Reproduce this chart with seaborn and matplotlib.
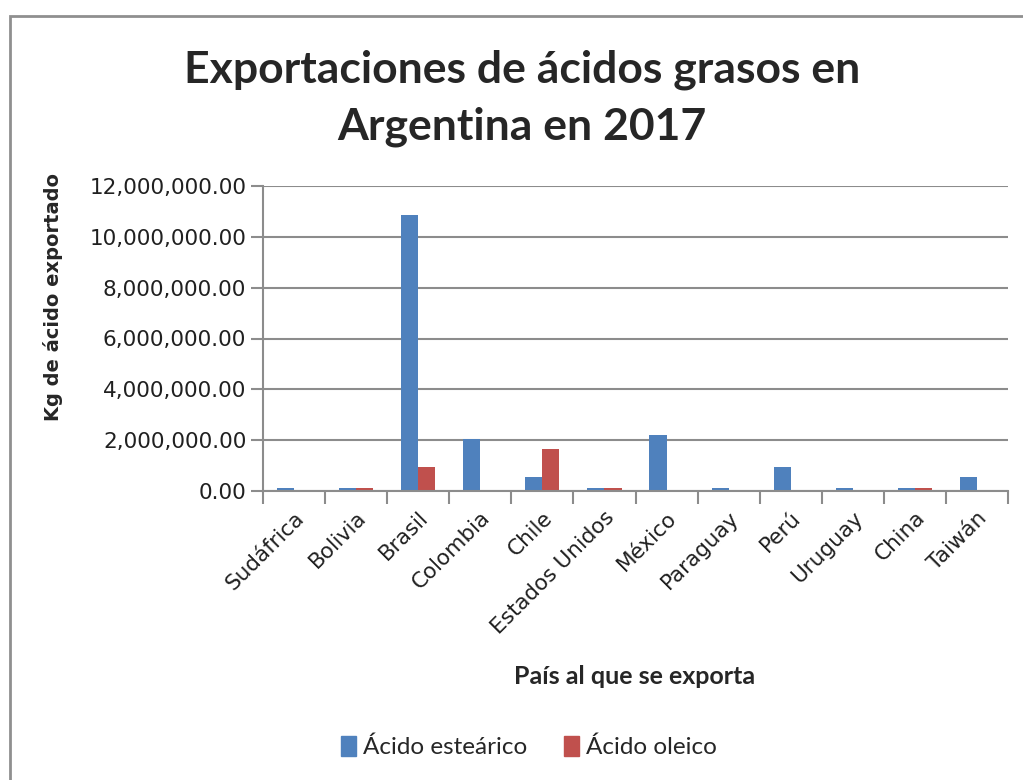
import pandas as pd
import matplotlib.pyplot as plt
import matplotlib.ticker as mticker
from matplotlib.patches import Rectangle
import seaborn as sns

# === datos ===
paises = ['Sudáfrica', 'Bolivia', 'Brasil', 'Colombia', 'Chile', 'Estados Unidos',
          'México', 'Paraguay', 'Perú', 'Uruguay', 'China', 'Taiwán']
estearico = [110000, 110000, 10860000, 2040000, 540000, 110000,
             2200000, 110000, 930000, 110000, 110000, 540000]
oleico = [0, 110000, 930000, 0, 1640000, 110000,
          0, 0, 0, 0, 110000, 0]
series = ['Ácido esteárico', 'Ácido oleico']
colores = ['#4F81BD', '#C0504D']

df = pd.DataFrame({'País': paises, series[0]: estearico, series[1]: oleico})
df_long = df.melt(id_vars='País', value_vars=series, var_name='Serie', value_name='Kg')

sns.set_theme(style='white')
plt.rcParams['font.family'] = ['DejaVu Sans']

fig = plt.figure(figsize=(10.23, 7.8), dpi=100)
ax = fig.add_axes([263 / 1023, 1 - 491 / 780, (1008 - 263) / 1023, (491 - 186) / 780])

sns.barplot(data=df_long, x='País', y='Kg', hue='Serie', palette=colores,
            width=0.55, ax=ax, legend=False, saturation=1, linewidth=0)

# === formato ===
ax.set_ylim(0, 12000000)
ax.set_xlim(-0.5, len(paises) - 0.5)
ax.yaxis.set_major_locator(mticker.MultipleLocator(2000000))
ax.yaxis.set_major_formatter(mticker.FuncFormatter(lambda v, p: f'{v:,.2f}'))
ax.grid(axis='y', color='#8c8c8c', linewidth=1.5)
ax.set_axisbelow(True)
for s in ['top', 'right']:
    ax.spines[s].set_visible(False)
for s in ['left', 'bottom']:
    ax.spines[s].set_color('#8c8c8c')
    ax.spines[s].set_linewidth(1.5)

ax.tick_params(axis='y', which='major', left=True, length=9, width=1.5, color='#8c8c8c',
               labelsize=15.5, labelcolor='#202020', pad=3)
ax.set_xticks(range(len(paises)))
ax.set_xticklabels(paises, rotation=45, ha='right', rotation_mode='anchor',
                   fontsize=15.5, color='#202020')
ax.tick_params(axis='x', which='major', length=0, pad=12)
ax.set_xticks([i - 0.5 for i in range(len(paises) + 1)], minor=True)
ax.tick_params(axis='x', which='minor', bottom=True, length=9, width=1.5, color='#8c8c8c')
ax.set_xlabel('')
ax.set_ylabel('')

# === textos ===
fig.text(0.51, 1 - 70 / 780, 'Exportaciones de ácidos grasos en', ha='center', va='center',
         fontsize=32, fontweight='bold', family=['Lato', 'DejaVu Sans'])
fig.text(0.51, 1 - 127 / 780, 'Argentina en 2017', ha='center', va='center',
         fontsize=32, fontweight='bold', family=['Lato', 'DejaVu Sans'])
fig.text(53 / 1023, 1 - 297 / 780, 'Kg de ácido exportado', rotation=90, ha='center',
         va='center', fontsize=14, fontweight='bold')
fig.text(635 / 1023, 1 - 676 / 780, 'País al que se exporta', ha='center', va='center',
         fontsize=18, fontweight='bold', family=['Lato', 'DejaVu Sans'])

handles = [Rectangle((0, 0), 1, 1, color=c) for c in colores]
fig.legend(handles, series, loc='center', bbox_to_anchor=(529 / 1023, 1 - 747 / 780),
           ncol=2, frameon=False, handlelength=0.6, handleheight=0.9, handletextpad=0.3,
           columnspacing=1.5, prop={'family': ['Lato', 'DejaVu Sans'], 'size': 17.5})

# marco del gráfico
fig.patches.append(Rectangle((10 / 1023, -0.1), 1.2, 1 - 16 / 780 + 0.1, transform=fig.transFigure,
                             fill=False, edgecolor='#8f8f8f', linewidth=2))

fig.savefig('out.png', dpi=100)
